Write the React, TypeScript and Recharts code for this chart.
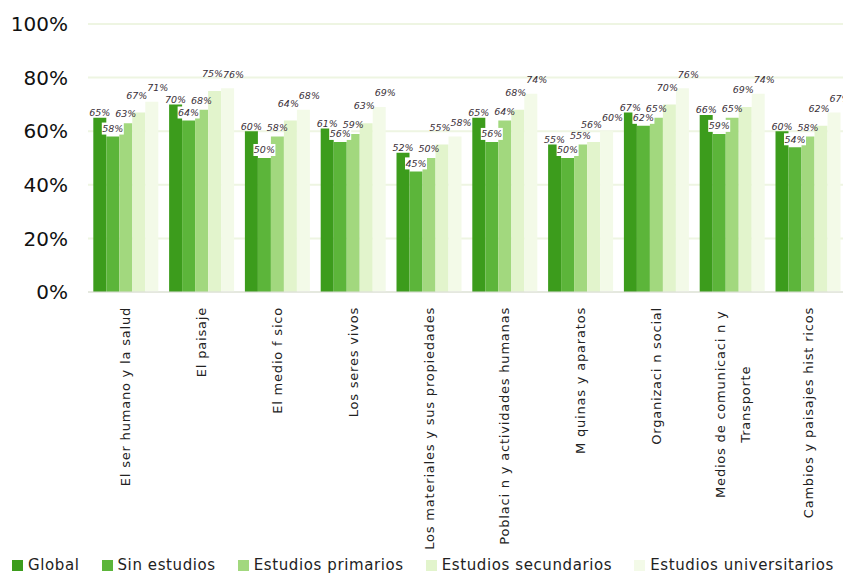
import React from 'react';
import { BarChart, Bar, XAxis, YAxis, CartesianGrid, Legend, LabelList } from 'recharts';

const categories = [
  'El ser humano y la salud',
  'El paisaje',
  'El medio f sico',
  'Los seres vivos',
  'Los materiales y sus propiedades',
  'Poblaci n y actividades humanas',
  'M quinas y aparatos',
  'Organizaci n social',
  'Medios de comunicaci n y\nTransporte',
  'Cambios y paisajes hist ricos',
];

const global = [65, 70, 60, 61, 52, 65, 55, 67, 66, 60];
const sinEstudios = [58, 64, 50, 56, 45, 56, 50, 62, 59, 54];
const primarios = [63, 68, 58, 59, 50, 64, 55, 65, 65, 58];
const secundarios = [67, 75, 64, 63, 55, 68, 56, 70, 69, 62];
const universitarios = [71, 76, 68, 69, 58, 74, 60, 76, 74, 67];

const yTicks = [0, 20, 40, 60, 80, 100];

const series = [
  { key: 'global', name: 'Global', color: '#3c9c1c', offset: 1, dx: 0, boxed: false },
  { key: 'sin', name: 'Sin estudios', color: '#5cb53a', offset: 4, dx: 0, boxed: true },
  { key: 'prim', name: 'Estudios primarios', color: '#a2d87e', offset: 5, dx: 0, boxed: false },
  { key: 'sec', name: 'Estudios secundarios', color: '#e2f4cc', offset: 13, dx: -2, boxed: false },
  { key: 'univ', name: 'Estudios universitarios', color: '#f3fae8', offset: 10, dx: 6, boxed: false },
];

const data = categories.map((name, i) => ({
  name,
  global: global[i],
  sin: sinEstudios[i],
  prim: primarios[i],
  sec: secundarios[i],
  univ: universitarios[i],
}));

const FONT = '"DejaVu Sans", sans-serif';

const CategoryTick = (props: any) => {
  const { x, y, payload } = props;
  const lines: string[] = String(payload.value).split('\n');
  const longest = Math.max(...lines.map((l) => l.length));
  const w = longest * 8.1;
  const multi = lines.length > 1;
  return (
    <g transform={`translate(${x},${y + 7})`}>
      <text
        transform="rotate(-90)"
        textAnchor={multi ? 'middle' : 'end'}
        fontSize={13}
        fontFamily={FONT}
        letterSpacing={0.8}
        fill="#222"
      >
        {lines.map((l, i) => (
          <tspan key={i} x={multi ? -w / 2 : 0} y={multi ? -12 + i * 25 : 0} dy="0.35em">
            {l}
          </tspan>
        ))}
      </text>
    </g>
  );
};

const makeLabel = (boxed: boolean, offset: number, dx: number) => (props: any) => {
  const { x, y, width, value } = props;
  const cx = x + width / 2 + dx;
  const ty = y - offset - 4;
  return (
    <g>
      {boxed && <rect x={cx - 11} y={ty - 6} width={22} height={12} fill="#fff" />}
      <text x={cx} y={ty} dy="0.35em" textAnchor="middle" fontSize={9.5} fontStyle="italic" fontFamily={FONT} fill="#3a3038">
        {`${value}%`}
      </text>
    </g>
  );
};

const LegendContent = () => (
  <div style={{ display: 'flex', justifyContent: 'center', gap: 22, fontFamily: FONT, fontSize: 15, letterSpacing: 0.6, color: '#222' }}>
    {series.map((s) => (
      <div key={s.key} style={{ display: 'flex', alignItems: 'center' }}>
        <span style={{ display: 'inline-block', width: 11, height: 11, background: s.color, marginRight: 5 }} />
        <span>{s.name}</span>
      </div>
    ))}
  </div>
);

export default function App() {
  return (
    <div style={{ position: 'absolute', left: 0, top: 0, width: 843, height: 578, overflow: 'hidden', background: '#fff' }}>
      <BarChart
        width={846}
        height={578}
        data={data}
        margin={{ top: 24, right: 0, bottom: 0, left: 0 }}
        barCategoryGap="7%"
        barGap={0}
      >
        <CartesianGrid vertical={false} stroke="#eef5e2" strokeWidth={2} />
        <XAxis
          dataKey="name"
          interval={0}
          height={264}
          tick={<CategoryTick />}
          tickLine={false}
          axisLine={{ stroke: '#dcdcdc' }}
        />
        <YAxis
          domain={[0, 100]}
          ticks={yTicks}
          width={88}
          tickLine={false}
          axisLine={false}
          tickMargin={14}
          tickFormatter={(v: number) => `${v}%`}
          tick={{ fontSize: 20, fill: '#111', fontFamily: FONT }}
        />
        <Legend verticalAlign="bottom" height={22} content={<LegendContent />} />
        {series.map((s) => (
          <Bar key={s.key} dataKey={s.key} name={s.name} fill={s.color} isAnimationActive={false}>
            <LabelList dataKey={s.key} content={makeLabel(s.boxed, s.offset, s.dx)} />
          </Bar>
        ))}
      </BarChart>
    </div>
  );
}
